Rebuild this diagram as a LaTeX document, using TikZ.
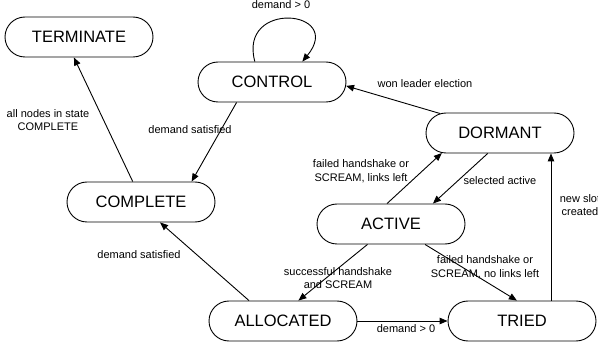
\documentclass[tikz,border=0pt]{standalone}
\usepackage{fontspec}
\setmainfont{Liberation Sans}
\usetikzlibrary{shapes.misc,arrows.meta}

\begin{document}
\begin{tikzpicture}[x=1pt, y=-1pt, line width=0.9pt,
		statebox/.style={draw, rounded rectangle, minimum width=148pt, minimum height=40pt, inner sep=0pt, font=\fontsize{16.5}{18}\selectfont},
		lbl/.style={align=center, inner sep=0pt, font=\fontsize{11}{13.5}\selectfont},
		>={Triangle[length=8pt, width=6.5pt]}]
		\useasboundingbox (0, 0) rectangle (598, 350);
		\begin{scope}[every node/.append style={statebox}]
			\node (0) at (79, 37) {TERMINATE};
			\node (1) at (272, 82) {CONTROL};
			\node (2) at (500, 133) {DORMANT};
			\node (3) at (141, 202) {COMPLETE};
			\node (4) at (391, 224) {ACTIVE};
			\node (5) at (283, 321) {ALLOCATED};
			\node (6) at (522, 321) {TRIED};
		\end{scope}

		\begin{scope}[every node/.append style={lbl}]
			\node (l0) at (281, 5) {demand > 0};
			\node (l1) at (425, 84) {won leader election};
			\node (l2) at (190, 130) {demand satisfied};
			\node (l3) at (48, 120) {all nodes in state\\COMPLETE};
			\node (l4) at (139, 255) {demand satisfied};
			\node (l5) at (361, 171) {failed handshake or\\SCREAM, links left};
			\node (l6) at (500, 181) {selected active};
			\node (l7) at (580, 205) {new slot\\created};
			\node (l8) at (485, 267) {failed handshake or\\SCREAM, no links left};
			\node (l9) at (338, 278) {successful handshake\\and SCREAM};
			\node (l10) at (406, 329) {demand > 0};
		\end{scope}

		\draw [->] (1.130) .. controls +(-17, -62) and +(43, -52) .. (1.34);
		\draw [->] (2.162) -- (1.-3);
		\draw [->] (1.210) -- (3.22);
		\draw [->] (3.112) -- (0.256);
		\draw [->] (5.149) -- (3.313);
		\draw [->] (4.101) -- (2.199);
		\draw [->] (2.239) -- (4.26);
		\draw [->] ([xshift=29pt]6.north) -- ([xshift=29pt]6.north |- 2.south);
		\draw [->] (4.221) -- (5.53);
		\draw [->] (4.329) -- (6.104);
		\draw [->] (5.east) -- (6.west);
	\end{tikzpicture}
\end{document}
